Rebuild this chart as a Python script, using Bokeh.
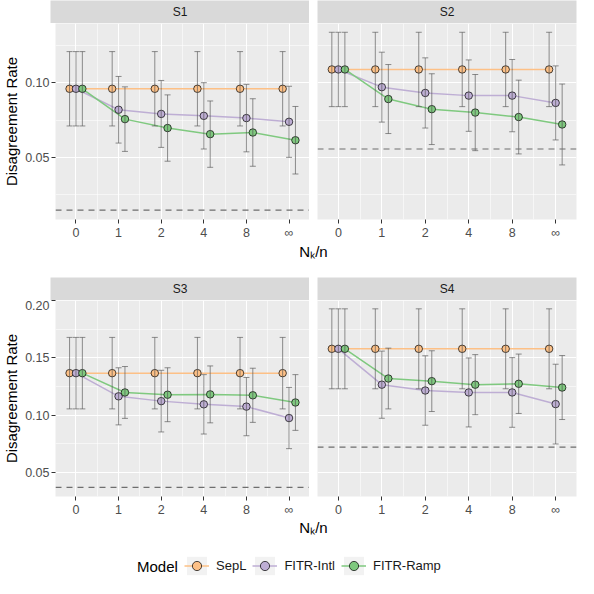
from bokeh.plotting import figure
from bokeh.models import (Range1d, FixedTicker, PrintfTickFormatter, Span, Whisker,
                          TeeHead, ColumnDataSource, Legend, LegendItem, Label)
from bokeh.layouts import column, row
from bokeh.embed import file_html
from bokeh.resources import INLINE
from bokeh.core.properties import value

FONT = "Liberation Sans"

# Data ########################################################################

x_labels = ["0", "1", "2", "4", "8", "\u221e"]
models = ["SepL", "FITR-Intl", "FITR-Ramp"]
model_colors = ["#FDC086", "#BEAED4", "#7FC97F"]
panels = ["S1", "S2", "S3", "S4"]

s1_sepl = [0.096, 0.096, 0.096, 0.096, 0.096, 0.096]
s1_sepl_err = [0.025, 0.025, 0.025, 0.025, 0.025, 0.025]
s1_intl = [0.096, 0.0819, 0.0791, 0.0778, 0.0763, 0.0738]
s1_intl_err = [0.025, 0.0224, 0.0225, 0.0223, 0.0227, 0.0239]
s1_ramp = [0.096, 0.0756, 0.0696, 0.0655, 0.0666, 0.0614]
s1_ramp_err = [0.025, 0.0217, 0.0223, 0.0223, 0.0227, 0.0227]

s2_sepl = [0.109, 0.109, 0.109, 0.109, 0.109, 0.109]
s2_sepl_err = [0.025, 0.025, 0.025, 0.025, 0.025, 0.025]
s2_intl = [0.109, 0.0971, 0.0932, 0.0914, 0.0914, 0.0865]
s2_intl_err = [0.025, 0.0235, 0.0236, 0.0240, 0.0243, 0.0249]
s2_ramp = [0.109, 0.0891, 0.0823, 0.0800, 0.0770, 0.0720]
s2_ramp_err = [0.025, 0.0232, 0.0238, 0.0256, 0.0248, 0.0272]

s3_sepl = [0.1367, 0.1367, 0.1367, 0.1367, 0.1367, 0.1367]
s3_sepl_err = [0.0313, 0.0313, 0.0313, 0.0313, 0.0313, 0.0313]
s3_intl = [0.1367, 0.1164, 0.1122, 0.1094, 0.1074, 0.0974]
s3_intl_err = [0.0313, 0.0250, 0.0270, 0.0260, 0.0255, 0.0268]
s3_ramp = [0.1367, 0.1198, 0.1178, 0.1181, 0.1173, 0.1110]
s3_ramp_err = [0.0313, 0.0227, 0.0236, 0.0249, 0.0237, 0.0244]

s4_sepl = [0.158, 0.158, 0.158, 0.158, 0.158, 0.158]
s4_sepl_err = [0.035, 0.035, 0.035, 0.035, 0.035, 0.035]
s4_intl = [0.158, 0.1266, 0.1215, 0.1198, 0.1198, 0.1096]
s4_intl_err = [0.035, 0.0294, 0.0304, 0.0302, 0.0305, 0.0349]
s4_ramp = [0.158, 0.1320, 0.1297, 0.1266, 0.1274, 0.1241]
s4_ramp_err = [0.035, 0.0266, 0.0266, 0.0263, 0.0260, 0.0280]

baselines = [0.0144, 0.0555, 0.0367, 0.0719]

panel_means = [
    [s1_sepl, s1_intl, s1_ramp],
    [s2_sepl, s2_intl, s2_ramp],
    [s3_sepl, s3_intl, s3_ramp],
    [s4_sepl, s4_intl, s4_ramp],
]
panel_errs = [
    [s1_sepl_err, s1_intl_err, s1_ramp_err],
    [s2_sepl_err, s2_intl_err, s2_ramp_err],
    [s3_sepl_err, s3_intl_err, s3_ramp_err],
    [s4_sepl_err, s4_intl_err, s4_ramp_err],
]

# Plot configuration ##########################################################

dodge = [-0.15, 0.0, 0.15]
x_range = (-0.48, 5.48)
y_ranges = [(0.0081, 0.1399), (0.0287, 0.2003)]
y_ticks = [[0.05, 0.10], [0.05, 0.10, 0.15, 0.20]]
y_minor = [[0.025, 0.075, 0.125], [0.075, 0.125, 0.175]]

left_border = 50
frame_w = 259
gap = 8
strip_h = 23
panel_h = 219
axis_h = 21
total_w = left_border + frame_w + gap + frame_w + 1


def base_fig(width, height, left, right, xr, yr):
    p = figure(width=width, height=height, x_range=Range1d(*xr), y_range=Range1d(*yr),
               output_backend="svg", toolbar_location=None, min_border=0,
               x_axis_location=None, y_axis_location=None)
    p.min_border_left = left
    p.min_border_right = right
    p.outline_line_color = None
    p.border_fill_color = "white"
    p.xgrid.visible = False
    p.ygrid.visible = False
    return p


def strip(name, first):
    left = left_border if first else gap
    width = left + frame_w + (0 if first else 1)
    p = base_fig(width, strip_h, left, 0 if first else 1, (0, 1), (0, 1))
    p.background_fill_color = "#D9D9D9"
    p.text(x=[0.5], y=[0.5], text=[name], text_align="center", text_baseline="middle",
           text_font=value(FONT), text_font_size="12px", text_color="#1A1A1A")
    return p


def panel(idx, first, row_idx):
    left = left_border if first else gap
    right = 0 if first else 1
    width = left + frame_w + right
    p = figure(width=width, height=panel_h, x_range=Range1d(*x_range),
               y_range=Range1d(*y_ranges[row_idx]), output_backend="svg",
               toolbar_location=None, min_border=0,
               y_axis_location="left" if first else None)
    p.min_border_left = left
    p.min_border_right = right
    p.min_border_bottom = axis_h
    p.outline_line_color = None
    p.background_fill_color = "#EBEBEB"
    p.border_fill_color = "white"

    xt = FixedTicker(ticks=[0, 1, 2, 3, 4, 5], minor_ticks=[0.5, 1.5, 2.5, 3.5, 4.5])
    yt = FixedTicker(ticks=y_ticks[row_idx], minor_ticks=y_minor[row_idx])
    p.xgrid.ticker = xt
    p.ygrid.ticker = yt
    for g in (p.xgrid, p.ygrid):
        g.grid_line_color = "white"
        g.grid_line_width = 1.1
        g.minor_grid_line_color = "white"
        g.minor_grid_line_width = 0.55

    axes = [p.xaxis[0]] + ([p.yaxis[0]] if first else [])
    for ax in axes:
        ax.axis_line_color = None
        ax.major_tick_line_color = "#333333"
        ax.major_tick_out = 4
        ax.major_tick_in = 0
        ax.minor_tick_out = 0
        ax.minor_tick_in = 0
        ax.major_label_standoff = 2
        ax.major_label_text_font = FONT
        ax.major_label_text_font_size = "12.5px"
        ax.major_label_text_color = "#4D4D4D"
    p.xaxis.ticker = xt
    p.xaxis.major_label_overrides = {i: lab for i, lab in enumerate(x_labels)}
    if first:
        p.yaxis.ticker = yt
        p.yaxis.formatter = PrintfTickFormatter(format="%.2f")
        p.yaxis.axis_label = "Disagreement Rate"
        p.yaxis.axis_label_text_font = FONT
        p.yaxis.axis_label_text_font_size = "15px"
        p.yaxis.axis_label_text_font_style = "normal"
        p.yaxis.axis_label_text_color = "black"
        p.yaxis.axis_label_standoff = 2

    p.add_layout(Span(location=baselines[idx], dimension="width", line_color="#6E6E6E",
                      line_dash="6 5", line_width=1.2))

    series = []
    for k in range(3):
        xs = [i + dodge[k] for i in range(len(x_labels))]
        m = panel_means[idx][k]
        e = panel_errs[idx][k]
        src = ColumnDataSource(dict(x=xs, y=m,
                                    lower=[a - b for a, b in zip(m, e)],
                                    upper=[a + b for a, b in zip(m, e)]))
        series.append(src)
        p.add_layout(Whisker(base="x", lower="lower", upper="upper", source=src,
                             dimension="height", level="glyph",
                             line_color="#555555", line_alpha=0.65, line_width=1,
                             upper_head=TeeHead(size=6, line_color="#555555", line_alpha=0.65),
                             lower_head=TeeHead(size=6, line_color="#555555", line_alpha=0.65)))
    for k in range(3):
        p.line("x", "y", source=series[k], line_color=model_colors[k], line_width=1.5)
    for k in range(3):
        p.scatter("x", "y", source=series[k], size=7.5, fill_color=model_colors[k],
                  line_color="black", line_width=0.7)
    return p


def xlabel(height, y_frac):
    p = base_fig(total_w, height, 0, 0, (0, total_w), (0, 1))
    p.background_fill_color = "white"
    p.add_layout(Label(x=313, y=y_frac, text="N\u2096/n", text_align="center",
                       text_baseline="middle", text_font=FONT, text_font_size="15px",
                       text_color="black"))
    return p


# Legend ######################################################################
# the key renderers are hidden; the legend still draws their glyphs

leg_h = 38
lp = base_fig(total_w, leg_h, 0, 0, (0, total_w), (0, leg_h))
lp.background_fill_color = "white"
items = []
key_x = list(range(len(x_labels)))
for name, c, ys in zip(models, model_colors, panel_means[0]):
    bg = lp.quad(left=key_x, right=key_x, top=ys, bottom=ys, fill_color="#F2F2F2",
                 line_color=None, visible=False)
    ln = lp.line(x=key_x, y=ys, line_color=c, line_width=1.5, visible=False)
    pt = lp.scatter(x=key_x, y=ys, size=6, fill_color=c, line_color="black",
                    line_width=0.7, visible=False)
    items.append(LegendItem(label=name, renderers=[bg, ln, pt]))
legend = Legend(items=items, orientation="horizontal", location=(184, 1),
                glyph_width=25, glyph_height=23, label_standoff=7, spacing=6,
                padding=0, margin=0, border_line_color=None, background_fill_alpha=0,
                inactive_fill_alpha=0,
                label_text_font=FONT, label_text_font_size="13px",
                label_text_color="#1A1A1A", label_height=23)
lp.add_layout(legend, "center")
lp.add_layout(Label(x=136.5, y=12.5, text="Model", text_baseline="middle",
                    text_font=FONT, text_font_size="15px", text_color="black"))

# Layout ######################################################################

layout = column(
    row(strip("S1", True), strip("S2", False)),
    row(panel(0, True, 0), panel(1, False, 0)),
    xlabel(35, 0.73),
    row(strip("S3", True), strip("S4", False)),
    row(panel(2, True, 1), panel(3, False, 1)),
    xlabel(21, 0.62),
    lp,
)

open("out.html", "w").write(file_html(layout, INLINE))
